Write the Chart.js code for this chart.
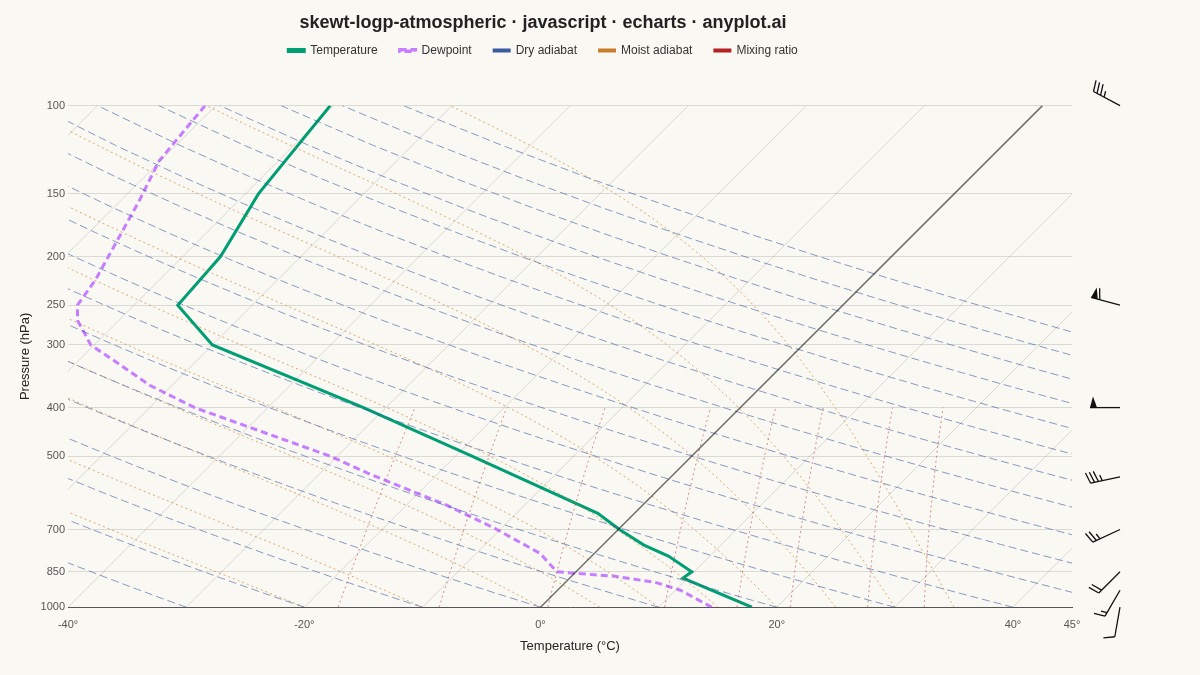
<!DOCTYPE html>
<html>
<head>
<meta charset="utf-8">
<script src="https://cdn.jsdelivr.net/npm/chart.js@4"></script>
<style>
  html, body { margin: 0; padding: 0; background: #faf8f2; }
  #wrap { width: 1200px; height: 675px; }
</style>
</head>
<body>
<div id="wrap"><canvas id="myChart" width="1200" height="675"></canvas></div>
<script>
// sounding (actual temperatures, °C)
const tempPressure = [1000, 875, 850, 791, 752, 700, 650, 500, 400, 300, 250, 200, 150, 100];
const temperature  = [17.9, 9.6, 9.8, 6.5, 3.5, 0.1, -3.1, -18.6, -31.9, -50.0, -56.3, -56.8, -58.9, -60.3];

const dewPressure = [1000, 925, 892, 868, 850, 813, 781, 697, 626, 543, 500, 400, 361, 326, 300, 268, 250, 223, 155, 129, 100];
const dewpoint    = [14.5, 10.4, 7.6, 3.7, -1.6, -3.2, -4.6, -10.5, -16.6, -25.7, -30.6, -46.2, -51.9, -56.5, -60.3, -63.5, -64.8, -65.4, -68.4, -70.1, -70.9];

// reference lines
const isotherms = [-120, -110, -100, -90, -80, -70, -60, -50, -40, -30, -20, -10, 0, 10, 20, 30, 40];
const dryThetas = [-30, -20, -10, 0, 10, 20, 30, 40, 50, 60, 70, 80, 90, 100, 110, 120, 130, 140, 150];
const moistStarts = [-20, -10, 0, 5, 10, 15, 20, 25, 30, 35];
const mixingRatios = [1, 2, 4, 8, 12, 16, 24, 32];

// wind barbs: pressure, speed (kt), direction (deg from)
const windPressure = [100, 250, 400, 550, 700, 850, 925, 1000];
const windSpeed    = [35, 60, 50, 35, 25, 20, 15, 10];
const windDir      = [298, 285, 270, 258, 245, 225, 210, 190];

const pressureTicks = [100, 150, 200, 250, 300, 400, 500, 700, 850, 1000];
const tempTicks = [-40, -20, 0, 20, 40, 45];

const SKEW = 42.5;
const skewX = (t, p) => t + SKEW * Math.log10(1000 / p);

function esat(t) { return 6.112 * Math.exp(17.67 * t / (t + 243.5)); }

const datasets = [];

const refLine = (label, pts, color, dash, width) => ({
    label: label, data: pts, borderColor: color, borderDash: dash, borderWidth: width,
    showLine: true, pointRadius: 0, fill: false, tension: 0, ref: true
});

isotherms.forEach((t) => {
    datasets.push(refLine('iso', [{ x: skewX(t, 1000), y: 1000 }, { x: skewX(t, 100), y: 100 }],
        t === 0 ? 'rgba(0,0,0,0.55)' : 'rgba(0,0,0,0.13)', [], t === 0 ? 1.5 : 1));
});

dryThetas.forEach((th) => {
    const pts = [];
    for (let p = 1000; p >= 100; p -= 20) {
        const t = (th + 273.15) * Math.pow(p / 1000, 0.286) - 273.15;
        pts.push({ x: skewX(t, p), y: p });
    }
    datasets.push(refLine('dry', pts, 'rgba(58,91,160,0.6)', [8, 4], 1));
});

moistStarts.forEach((t0) => {
    const pts = [];
    let T = t0 + 273.15;
    for (let p = 1000; p >= 100; p -= 5) {
        pts.push({ x: skewX(T - 273.15, p), y: p });
        const es = esat(T - 273.15);
        const rs = 0.622 * es / (p - es);
        const Rd = 287, cp = 1004, Lv = 2.5e6;
        const dTdp = (1 / p) * (Rd * T + Lv * rs) / (cp + Lv * Lv * rs * 0.622 / (Rd * T * T));
        T -= dTdp * 5;
    }
    datasets.push(refLine('moist', pts, 'rgba(200,125,40,0.65)', [2, 3], 1));
});

mixingRatios.forEach((w) => {
    const pts = [];
    for (let p = 1000; p >= 400; p -= 25) {
        const e = w * p / (622 + w);
        const l = Math.log(e / 6.112);
        const t = 243.5 * l / (17.67 - l);
        pts.push({ x: skewX(t, p), y: p });
    }
    datasets.push(refLine('mix', pts, 'rgba(178,34,34,0.5)', [2, 3], 1));
});

datasets.push({
    label: 'Temperature',
    data: tempPressure.map((p, i) => ({ x: skewX(temperature[i], p), y: p })),
    borderColor: '#009E73', backgroundColor: '#009E73', borderWidth: 3, showLine: true, pointRadius: 0, tension: 0
});
datasets.push({
    label: 'Dewpoint',
    data: dewPressure.map((p, i) => ({ x: skewX(dewpoint[i], p), y: p })),
    borderColor: '#c77dff', backgroundColor: '#c77dff', borderWidth: 3, borderDash: [7, 4], showLine: true, pointRadius: 0, tension: 0
});

// legend-only entries
[['Dry adiabat', '#3a5ba0'], ['Moist adiabat', '#c87d2a'], ['Mixing ratio', '#b22222']].forEach(([l, c]) => {
    datasets.push({ label: l, data: [], borderColor: c, backgroundColor: c, borderWidth: 2, showLine: true, pointRadius: 0 });
});

const barbPlugin = {
    id: 'barbs',
    afterDraw(chart) {
        const ctx = chart.ctx;
        const ys = chart.scales.y;
        ctx.save();
        ctx.strokeStyle = '#111';
        ctx.fillStyle = '#111';
        ctx.lineWidth = 1.3;
        windPressure.forEach((p, i) => {
            const x0 = 1120, y0 = ys.getPixelForValue(p);
            const a = windDir[i] * Math.PI / 180;
            const dx = Math.sin(a), dy = -Math.cos(a);
            const L = 30;
            const x1 = x0 + dx * L, y1 = y0 + dy * L;
            ctx.beginPath(); ctx.moveTo(x0, y0); ctx.lineTo(x1, y1); ctx.stroke();
            const px = -dy, py = dx;
            let s = windSpeed[i], pos = 0;
            const step = 4;
            while (s >= 50) {
                const bx = x1 - dx * pos, by = y1 - dy * pos;
                ctx.beginPath();
                ctx.moveTo(bx, by);
                ctx.lineTo(bx + px * 11 - dx * 3, by + py * 11 - dy * 3);
                ctx.lineTo(bx - dx * 7, by - dy * 7);
                ctx.closePath(); ctx.fill();
                pos += 9; s -= 50;
            }
            while (s >= 10) {
                const bx = x1 - dx * pos, by = y1 - dy * pos;
                ctx.beginPath(); ctx.moveTo(bx, by);
                ctx.lineTo(bx + px * 11 + dx * 3, by + py * 11 + dy * 3); ctx.stroke();
                pos += step; s -= 10;
            }
            if (s >= 5) {
                if (pos === 0) pos = step;
                const bx = x1 - dx * pos, by = y1 - dy * pos;
                ctx.beginPath(); ctx.moveTo(bx, by);
                ctx.lineTo(bx + px * 6 + dx * 1.5, by + py * 6 + dy * 1.5); ctx.stroke();
            }
        });
        ctx.restore();
    }
};

const bgPlugin = {
    id: 'bg',
    beforeInit(chart) {
        // extra room under the legend
        const fit = chart.legend.fit;
        chart.legend.fit = function () {
            fit.bind(chart.legend)();
            this.height += 39;
        };
    },
    beforeDraw(chart) {
        const ctx = chart.ctx;
        ctx.save();
        ctx.fillStyle = '#faf8f2';
        ctx.fillRect(0, 0, chart.width, chart.height);
        ctx.restore();
    }
};

const config = {
    type: 'scatter',
    data: { datasets: datasets },
    options: {
        responsive: false,
        animation: false,
        layout: { padding: { left: 14, right: 128, top: 0, bottom: 17 } },
        plugins: {
            title: {
                display: true,
                text: 'skewt-logp-atmospheric · javascript · echarts · anyplot.ai',
                color: '#222', font: { family: 'Liberation Sans, Arial', size: 18, weight: 'bold' },
                padding: { top: 12, bottom: -11 }
            },
            legend: {
                labels: {
                    filter: (item, data) => !data.datasets[item.datasetIndex].ref,
                    boxWidth: 16, boxHeight: 2, color: '#333',
                    font: { family: 'Liberation Sans, Arial', size: 12 },
                    padding: 22
                }
            },
            tooltip: { enabled: false }
        },
        scales: {
            x: {
                type: 'linear', min: -40, max: 45,
                afterBuildTicks: (s) => { s.ticks = tempTicks.map((v) => ({ value: v })); },
                ticks: { callback: (v) => v + '°', color: '#555', font: { size: 11 }, maxRotation: 0, autoSkip: false },
                grid: { display: false },
                border: { display: true, color: '#555' },
                title: { display: true, text: 'Temperature (°C)', color: '#222', font: { family: 'Liberation Sans, Arial', size: 13 } }
            },
            y: {
                type: 'logarithmic', min: 100, max: 1000, reverse: true,
                afterBuildTicks: (s) => { s.ticks = pressureTicks.map((v) => ({ value: v })); },
                ticks: { callback: (v) => String(v), color: '#555', font: { size: 11 }, autoSkip: false },
                grid: { color: 'rgba(0,0,0,0.12)', drawTicks: false },
                border: { display: false },
                title: { display: true, text: 'Pressure (hPa)', color: '#222', font: { family: 'Liberation Sans, Arial', size: 13 } }
            }
        }
    },
    plugins: [bgPlugin, barbPlugin]
};

const myChart = new Chart(document.getElementById('myChart'), config);
</script>
</body>
</html>
